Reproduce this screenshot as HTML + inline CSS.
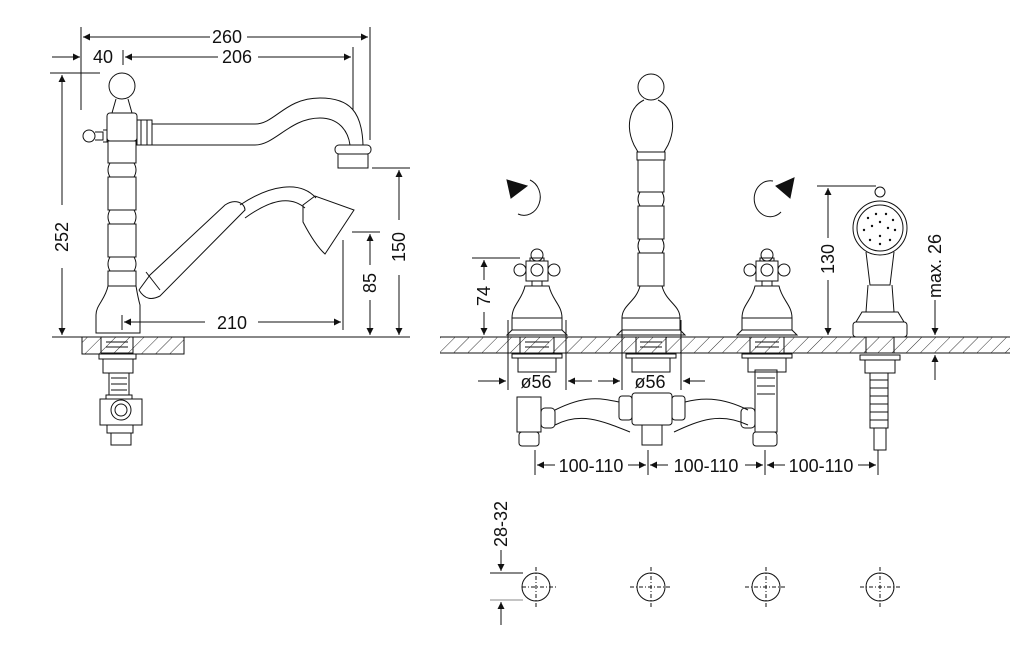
<!DOCTYPE html>
<html><head><meta charset="utf-8"><style>
html,body{margin:0;padding:0;background:#fff;}
svg{display:block}
text{font-family:"Liberation Sans",sans-serif;font-size:18px;fill:#111}
</style></head><body>
<svg width="1024" height="666" viewBox="0 0 1024 666" xmlns="http://www.w3.org/2000/svg">
<defs>
<pattern id="h" width="10" height="10" patternUnits="userSpaceOnUse" patternTransform="rotate(45)">
<line x1="0" y1="0" x2="0" y2="10" stroke="#333" stroke-width="1"/></pattern>
<marker id="a" viewBox="0 0 10 10" refX="10" refY="5" markerWidth="9" markerHeight="7" orient="auto-start-reverse" markerUnits="userSpaceOnUse"><path d="M0,0L10,5L0,10z" fill="#111"/></marker>
</defs>
<g fill="none" stroke="#111" stroke-width="1">
<!-- LEFT VIEW -->
<line x1="52" y1="337" x2="410" y2="337"/>
<rect x="82" y="337" width="102" height="17" fill="url(#h)"/>
<rect x="82" y="337" width="102" height="17"/>
<line x1="81" y1="27" x2="81" y2="110"/><line x1="370" y1="27" x2="370" y2="140"/>
<line x1="83" y1="37" x2="210" y2="37" marker-start="url(#a)"/><line x1="247" y1="37" x2="368" y2="37" marker-end="url(#a)"/>
<line x1="52" y1="57" x2="80" y2="57" marker-end="url(#a)"/>
<line x1="123" y1="50" x2="123" y2="65"/>
<line x1="125" y1="57" x2="218" y2="57" marker-start="url(#a)"/><line x1="258" y1="57" x2="351" y2="57" marker-end="url(#a)"/>
<line x1="353" y1="47" x2="353" y2="110"/>
<line x1="50" y1="73" x2="100" y2="73"/>
<line x1="62" y1="75" x2="62" y2="205" marker-start="url(#a)"/><line x1="62" y1="268" x2="62" y2="335" marker-end="url(#a)"/>
<line x1="372" y1="168" x2="410" y2="168"/>
<line x1="399" y1="170" x2="399" y2="220" marker-start="url(#a)"/><line x1="399" y1="275" x2="399" y2="335" marker-end="url(#a)"/>
<line x1="352" y1="232" x2="380" y2="232"/>
<line x1="370" y1="234" x2="370" y2="265" marker-start="url(#a)"/><line x1="370" y1="300" x2="370" y2="335" marker-end="url(#a)"/>
<line x1="343" y1="240" x2="343" y2="330"/>
<line x1="122" y1="315" x2="122" y2="330"/>
<line x1="124" y1="322" x2="205" y2="322" marker-start="url(#a)"/><line x1="258" y1="322" x2="341" y2="322" marker-end="url(#a)"/>
<circle cx="122" cy="86" r="13"/>
<path d="M116,99 L112,113 L132,113 L128,99"/>
<rect x="107" y="113" width="30" height="28" rx="3"/>
<circle cx="89" cy="136" r="6"/><path d="M95,132 h8 v8 h-8"/><path d="M103,130 h4 v12 h-4"/>
<rect x="137" y="120" width="15" height="25"/>
<line x1="141" y1="120" x2="141" y2="145"/><line x1="147" y1="120" x2="147" y2="145"/>
<path d="M152,124 L255,124 C275,124 285,98 320,98 C350,98 362,112 363,145"/>
<path d="M152,145 L255,145 C275,145 290,118 320,118 C338,118 348,130 350,145"/>
<rect x="335" y="145" width="36" height="9" rx="4"/>
<rect x="338" y="154" width="30" height="14"/>
<rect x="108" y="141" width="28" height="22"/>
<path d="M110,163 q-4,7 0,14 M134,163 q4,7 0,14"/>
<rect x="108" y="177" width="28" height="33"/>
<path d="M110,210 q-4,7 0,14 M134,210 q4,7 0,14"/>
<rect x="108" y="224" width="28" height="33"/>
<path d="M110,257 q-4,7 0,14 M134,257 q4,7 0,14"/>
<rect x="108" y="271" width="28" height="15"/>
<path d="M108,286 C105,300 96,305 96,315 L96,333 L140,333 L140,305 C138,298 137,292 136,286"/>
<path d="M139,290 L150,275 L225,205 C235,198 245,203 245,210 L160,296 C152,300 145,300 139,290"/>
<path d="M146,272 L160,290"/>
<path d="M240,205 C270,185 300,180 316,198"/>
<path d="M245,218 C270,200 290,195 305,208"/>
<path d="M303,205 L315,196 L354,210 L325,254 Q315,245 303,222z"/>
<rect x="101" y="337" width="32" height="16"/>
<line x1="106" y1="342" x2="128" y2="342"/><line x1="106" y1="347" x2="128" y2="347"/>
<rect x="99" y="354" width="37" height="5"/>
<rect x="103" y="359" width="30" height="14"/>
<rect x="109" y="373" width="20" height="22"/>
<line x1="111" y1="378" x2="127" y2="378"/><line x1="111" y1="384" x2="127" y2="384"/><line x1="111" y1="390" x2="127" y2="390"/>
<rect x="106" y="395" width="26" height="4"/>
<rect x="100" y="399" width="42" height="26"/>
<circle cx="121" cy="410" r="10"/><circle cx="121" cy="410" r="6"/>
<rect x="107" y="425" width="26" height="8"/>
<rect x="111" y="433" width="20" height="12"/>
<!-- RIGHT VIEW -->
<line x1="440" y1="337" x2="1010" y2="337"/><line x1="440" y1="353" x2="1010" y2="353"/>
<rect x="440" y="337" width="570" height="16" fill="url(#h)" stroke="none"/>
<path d="M530,180 A16,18 0 1 1 518,214"/>
<path d="M507,180 L527,186 L511,198z" fill="#111"/>
<path d="M773,181 A16,18 0 1 0 781,212"/>
<path d="M794,178 L776,186 L790,198z" fill="#111"/>
<g id="v">
<circle cx="537" cy="255" r="6"/><circle cx="520" cy="270" r="6"/><circle cx="554" cy="270" r="6"/>
<rect x="526" y="261" width="22" height="20"/>
<circle cx="537" cy="270" r="6"/>
<rect x="530" y="258" width="14" height="3"/>
<rect x="532" y="281" width="10" height="5"/>
<path d="M525,286 L549,286 C552,300 562,305 562,318 L562,330 L567,335 L507,335 L512,330 L512,318 C512,305 522,300 525,286z"/>
<line x1="512" y1="318" x2="562" y2="318"/><line x1="512" y1="330" x2="562" y2="330"/>
<rect x="520" y="337" width="34" height="16"/>
<line x1="525" y1="342" x2="549" y2="342"/><line x1="525" y1="347" x2="549" y2="347"/>
<rect x="512" y="354" width="50" height="4"/>
<rect x="518" y="358" width="38" height="14"/>
</g>
<use href="#v" x="230"/>
<!-- center spout -->
<circle cx="651" cy="87" r="13"/>
<path d="M644,100 C628,108 626,128 634,145 L638,152 M658,100 C674,108 676,128 668,145 L664,152"/>
<rect x="637" y="152" width="28" height="8"/>
<rect x="638" y="160" width="26" height="32"/>
<path d="M640,192 q-4,7 0,14 M662,192 q4,7 0,14"/>
<rect x="638" y="206" width="26" height="33"/>
<path d="M640,239 q-4,7 0,14 M662,239 q4,7 0,14"/>
<rect x="638" y="253" width="26" height="33"/>
<path d="M640,286 L662,286 C666,302 680,305 680,318 L680,330 L685,335 L617,335 L622,330 L622,318 C622,305 636,302 640,286z"/>
<line x1="622" y1="318" x2="680" y2="318"/><line x1="622" y1="330" x2="680" y2="330"/>
<rect x="636" y="337" width="30" height="16"/>
<line x1="640" y1="342" x2="662" y2="342"/><line x1="640" y1="347" x2="662" y2="347"/>
<rect x="626" y="354" width="50" height="4"/>
<rect x="632" y="358" width="38" height="14"/>
<line x1="508" y1="320" x2="508" y2="390"/><line x1="566" y1="320" x2="566" y2="390"/>
<line x1="622" y1="320" x2="622" y2="390"/><line x1="681" y1="320" x2="681" y2="390"/>
<line x1="478" y1="381" x2="506" y2="381" marker-end="url(#a)"/>
<line x1="592" y1="381" x2="568" y2="381" marker-end="url(#a)"/>
<line x1="598" y1="381" x2="620" y2="381" marker-end="url(#a)"/>
<line x1="705" y1="381" x2="683" y2="381" marker-end="url(#a)"/>
<rect x="517" y="397" width="24" height="35"/><rect x="519" y="432" width="20" height="14" rx="3"/>
<rect x="755" y="370" width="22" height="62"/>
<line x1="757" y1="378" x2="775" y2="378"/><line x1="757" y1="386" x2="775" y2="386"/><line x1="757" y1="394" x2="775" y2="394"/>
<rect x="753" y="432" width="24" height="14" rx="3"/>
<rect x="541" y="408" width="14" height="20" rx="4"/>
<rect x="632" y="393" width="40" height="32" rx="3"/>
<rect x="619" y="396" width="13" height="24" rx="3"/><rect x="672" y="396" width="13" height="24" rx="3"/>
<rect x="642" y="425" width="20" height="20"/>
<path d="M555,410 C585,395 600,398 619,402 M555,425 C580,412 600,420 630,432"/>
<path d="M685,402 C700,398 720,396 748,410 M674,432 C700,420 720,412 748,425"/>
<rect x="741" y="408" width="14" height="20" rx="4"/>
<circle cx="880" cy="192" r="5"/>
<circle cx="880" cy="228" r="27"/><circle cx="880" cy="228" r="23"/>
<path d="M866,252 L870,285 L890,285 L894,252"/>
<path d="M868,285 L866,312 L894,312 L892,285"/>
<path d="M862,312 L898,312 L904,322 L856,322z"/>
<rect x="853" y="322" width="54" height="15" rx="3"/>
<rect x="866" y="337" width="28" height="16"/>
<rect x="860" y="355" width="40" height="5"/><rect x="865" y="360" width="30" height="13"/>
<rect x="870" y="373" width="18" height="55"/>
<line x1="870" y1="380" x2="888" y2="380"/><line x1="870" y1="388" x2="888" y2="388"/><line x1="870" y1="396" x2="888" y2="396"/><line x1="870" y1="404" x2="888" y2="404"/><line x1="870" y1="412" x2="888" y2="412"/><line x1="870" y1="420" x2="888" y2="420"/>
<rect x="874" y="428" width="12" height="22"/>
<line x1="472" y1="258" x2="520" y2="258"/>
<line x1="484" y1="260" x2="484" y2="280" marker-start="url(#a)"/><line x1="484" y1="312" x2="484" y2="335" marker-end="url(#a)"/>
<line x1="817" y1="186" x2="876" y2="186"/>
<line x1="828" y1="188" x2="828" y2="238" marker-start="url(#a)"/><line x1="828" y1="280" x2="828" y2="335" marker-end="url(#a)"/>
<line x1="935" y1="300" x2="935" y2="335" marker-end="url(#a)"/>
<line x1="935" y1="380" x2="935" y2="355" marker-end="url(#a)"/>
<line x1="535" y1="450" x2="535" y2="475"/><line x1="648" y1="450" x2="648" y2="475"/><line x1="765" y1="450" x2="765" y2="475"/><line x1="878" y1="450" x2="878" y2="475"/>
<line x1="555" y1="465" x2="537" y2="465" marker-end="url(#a)"/><line x1="628" y1="465" x2="646" y2="465" marker-end="url(#a)"/>
<line x1="668" y1="465" x2="650" y2="465" marker-end="url(#a)"/><line x1="745" y1="465" x2="763" y2="465" marker-end="url(#a)"/>
<line x1="785" y1="465" x2="767" y2="465" marker-end="url(#a)"/><line x1="858" y1="465" x2="876" y2="465" marker-end="url(#a)"/>
<line x1="490" y1="573" x2="523" y2="573"/><line x1="490" y1="600" x2="523" y2="600" stroke="#888"/>
<line x1="501" y1="550" x2="501" y2="571" marker-end="url(#a)"/>
<line x1="501" y1="625" x2="501" y2="602" marker-end="url(#a)"/>
<g stroke-dasharray="4,2,1,2">
<line x1="522" y1="587" x2="556" y2="587"/><line x1="536" y1="567" x2="536" y2="607"/>
<line x1="630" y1="587" x2="672" y2="587"/><line x1="651" y1="567" x2="651" y2="607"/>
<line x1="745" y1="587" x2="787" y2="587"/><line x1="766" y1="567" x2="766" y2="607"/>
<line x1="860" y1="587" x2="900" y2="587"/><line x1="880" y1="567" x2="880" y2="607"/>
</g>
<circle cx="536" cy="587" r="14"/><circle cx="651" cy="587" r="14"/><circle cx="766" cy="587" r="14"/><circle cx="880" cy="587" r="14"/>
</g>
<g fill="#111" stroke="none">
<circle cx="868" cy="218" r="1.2"/><circle cx="876" cy="214" r="1.2"/><circle cx="886" cy="214" r="1.2"/><circle cx="893" cy="220" r="1.2"/><circle cx="895" cy="230" r="1.2"/><circle cx="890" cy="240" r="1.2"/><circle cx="880" cy="244" r="1.2"/><circle cx="870" cy="240" r="1.2"/><circle cx="864" cy="230" r="1.2"/><circle cx="872" cy="226" r="1.2"/><circle cx="888" cy="228" r="1.2"/><circle cx="880" cy="236" r="1.2"/><circle cx="880" cy="222" r="1.2"/>
</g>
<text x="227" y="43" text-anchor="middle">260</text>
<text x="103" y="63" text-anchor="middle">40</text>
<text x="237" y="63" text-anchor="middle">206</text>
<text x="232" y="329" text-anchor="middle">210</text>
<text transform="translate(68,237) rotate(-90)" text-anchor="middle">252</text>
<text transform="translate(405,247) rotate(-90)" text-anchor="middle">150</text>
<text transform="translate(376,283) rotate(-90)" text-anchor="middle">85</text>
<text transform="translate(490,296) rotate(-90)" text-anchor="middle">74</text>
<text transform="translate(834,259) rotate(-90)" text-anchor="middle">130</text>
<text transform="translate(941,266) rotate(-90)" text-anchor="middle">max. 26</text>
<text transform="translate(507,524) rotate(-90)" text-anchor="middle">28-32</text>
<text x="536" y="388" text-anchor="middle">ø56</text>
<text x="650" y="388" text-anchor="middle">ø56</text>
<text x="591" y="472" text-anchor="middle">100-110</text>
<text x="706" y="472" text-anchor="middle">100-110</text>
<text x="821" y="472" text-anchor="middle">100-110</text>
</svg>
</body></html>
